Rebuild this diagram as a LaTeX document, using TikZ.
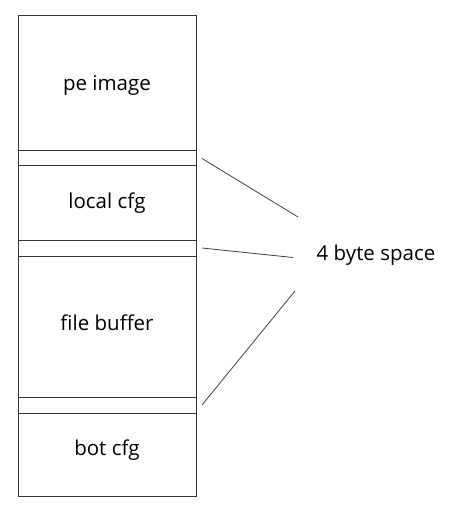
\documentclass[tikz,border=0pt]{standalone}
\usepackage{fontspec}
\setmainfont{Open Sans}
\usepackage{tikz}
\usetikzlibrary{positioning,calc}

\begin{document}
\begin{tikzpicture}[
  x=1pt, y=-1pt,
  blk/.style={draw=black!80, line width=1pt, rectangle, minimum width=178pt,
    inner sep=0pt, outer sep=0pt, font=\fontsize{20.5}{24}\selectfont},
  gap/.style={blk},
  lead/.style={draw=black!75, line width=0.8pt},
  txt/.style={font=\fontsize{20.5}{24}\selectfont, inner sep=0pt}
]
\useasboundingbox (0,0) rectangle (449,518);

% Blocks (top to bottom)
\node[blk, minimum height=135pt, text height=18pt] (pe) at (107,83.5) {pe image};
\node[gap, minimum height=15pt] (gap1) at (107,158.5) {};
\node[blk, minimum height=74pt] (local) at (107,203) {local cfg};
\node[gap, minimum height=16pt] (gap2) at (107,248) {};
\node[blk, minimum height=141pt, text depth=8pt] (file) at (107,326.5) {file buffer};
\node[gap, minimum height=16pt] (gap3) at (107,405) {};
\node[blk, minimum height=83pt, text depth=14pt] (bot) at (107,454.5) {bot cfg};

% Label
\node[txt] (space) at (376,255) {4 byte space};

% Leader ends
\coordinate (e1) at (298,217);
\coordinate (e2) at (293,257.5);
\coordinate (e3) at (295,291);

% Leaders
\foreach \a/\b in {gap1/e1, gap2/e2, gap3/e3}
  \draw[lead] ([xshift=6pt]\a.east) -- (\b);
\end{tikzpicture}
\end{document}
